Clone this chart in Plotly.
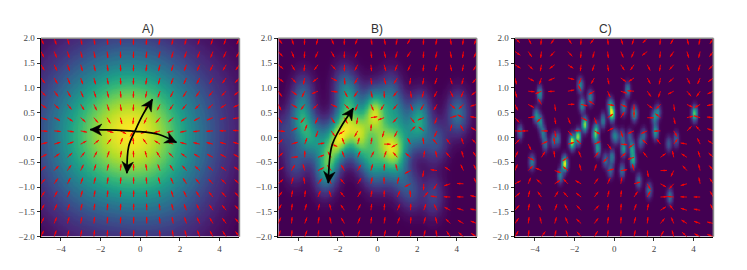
import numpy as np
import plotly.graph_objects as go

# Blob centres and relative weights
blob_x = [-3.77,-4.75,-3.94,-3.74,-3.61,-3.49,-3.10,-2.87,-4.16,-2.73,-2.51,-2.14,-1.84,-1.72,-1.64,-1.22,-1.50,-0.92,-0.97,-0.85,-0.58,-0.46,-0.13,-0.21,-0.21,-0.13,-0.04,0.09,0.46,0.38,0.46,0.38,0.66,0.76,0.88,0.93,1.00,1.30,1.47,1.22,1.74,2.01,2.19,2.06,2.73,3.10,2.78,4.03]
blob_y = [0.89,0.12,0.45,0.32,0.10,-0.12,-0.05,-0.02,-0.49,-0.76,-0.52,-0.08,0.02,1.06,0.66,0.81,0.27,0.18,0.05,-0.21,0.35,-0.45,-0.39,-0.66,0.66,0.49,0.05,0.02,0.61,0.03,-0.22,-0.66,0.97,0.02,-0.22,-0.45,0.49,-0.08,0.05,-0.87,-1.06,0.42,0.52,0.12,-0.12,-0.03,-1.18,0.49]
blob_w = [0.5,0.35,0.5,0.45,0.4,0.35,0.3,0.35,0.45,0.45,1.0,0.95,0.85,0.5,0.5,0.45,0.85,0.45,0.6,0.55,0.4,0.35,0.4,0.35,0.55,0.9,0.3,0.3,0.4,0.3,0.55,0.35,0.4,0.3,0.55,0.6,0.6,0.3,0.3,0.35,0.4,0.45,0.4,0.55,0.3,0.3,0.4,0.75]

# Kernel width (x, y) of each panel, in data units
panel_names = ["A)", "B)", "C)"]
panel_hx = [1.5, 0.37, 0.10]
panel_hy = [1.0, 0.29, 0.10]
panel_left = [41, 278.3, 515]

# Black curved arrows: waypoints tip to tip
curves_x = [[[-2.52,-1.9,-0.25,0.95,1.83],[0.62,0.15,-0.24,-0.58,-0.67]],
            [[-1.22,-1.89,-2.31,-2.48]],
            []]
curves_y = [[[0.16,0.155,0.125,0.06,-0.10],[0.77,0.47,0.15,-0.18,-0.72]],
            [[0.59,0.18,-0.18,-0.92]],
            []]

xticks = [-4, -2, 0, 2, 4]
yticks = [-2, -1.5, -1, -0.5, 0, 0.5, 1, 1.5, 2]
W, H = 747, 270
AX = 198.4
TOP = 38.3
sx, sy = AX/10, AX/4

bx, by, bw = np.array(blob_x), np.array(blob_y), np.array(blob_w)


def log_terms(X, Y, hx, hy):
    return np.log(bw) - 0.5*((X[..., None]-bx)/hx)**2 - 0.5*((Y[..., None]-by)/hy)**2


def head_polygon(x0, y0, x1, y1, length=11.5, width=11.5, notch=3.5):
    # arrowhead whose tip sits on the last waypoint and which follows the last chord
    dx, dy = (x1-x0)*sx, (y1-y0)*sy
    n = np.hypot(dx, dy)
    dx, dy = dx/n, dy/n
    px = lambda a, b: x1 + (a*dx - b*dy)/sx
    py = lambda a, b: y1 + (a*dy + b*dx)/sy
    pts = [(0, 0), (-length, width/2), (-length+notch, 0), (-length, -width/2), (0, 0)]
    return [px(*p) for p in pts], [py(*p) for p in pts]


fig = go.Figure()
for i in range(3):
    xa = "x" if i == 0 else f"x{i+1}"
    ya = "y" if i == 0 else f"y{i+1}"
    hx, hy = panel_hx[i], panel_hy[i]
    gx, gy = np.linspace(-5, 5, 240), np.linspace(-2, 2, 240)
    X, Y = np.meshgrid(gx, gy)
    Z = np.exp(log_terms(X, Y, hx, hy)).sum(-1)
    fig.add_trace(go.Heatmap(x=gx, y=gy, z=Z, colorscale="Viridis", showscale=False,
                             zsmooth="best", xaxis=xa, yaxis=ya, hoverinfo="skip"))
    # quiver: normalised score field
    qx, qy = np.meshgrid(np.linspace(-5, 5, 16), np.linspace(-2, 2, 16))
    lt = log_terms(qx, qy, hx, hy)
    lt = lt - lt.max(-1, keepdims=True)
    r = np.exp(lt)
    r = r / r.sum(-1, keepdims=True)
    u = (r*(bx-qx[..., None])/hx**2).sum(-1)
    v = (r*(by-qy[..., None])/hy**2).sum(-1)
    n = np.hypot(u, v) + 1e-12
    L = 6.5
    ex = qx + u/n*L/sx
    ey = qy + v/n*L/sy
    lx, ly = [], []
    for a, b, c, d in zip(qx.ravel(), qy.ravel(), ex.ravel(), ey.ravel()):
        lx += [a, c, None]
        ly += [b, d, None]
    fig.add_trace(go.Scatter(x=lx, y=ly, mode="lines", line=dict(color="#ff0000", width=1.0), opacity=0.9,
                             xaxis=xa, yaxis=ya, hoverinfo="skip", showlegend=False))
    ang = np.degrees(np.arctan2(u/n, v/n)).ravel()
    fig.add_trace(go.Scatter(x=ex.ravel(), y=ey.ravel(), mode="markers", opacity=0.9,
                             marker=dict(symbol="arrow", size=3.5, color="#ff0000", angle=ang, line=dict(width=0)),
                             xaxis=xa, yaxis=ya, hoverinfo="skip", showlegend=False))
    for cx, cy in zip(curves_x[i], curves_y[i]):
        fig.add_trace(go.Scatter(x=cx, y=cy, mode="lines", line=dict(color="black", width=1.7, shape="spline"),
                                 xaxis=xa, yaxis=ya, hoverinfo="skip", showlegend=False))
        for a, b in ((cx[-2:], cy[-2:]), (cx[1::-1], cy[1::-1])):
            hpx, hpy = head_polygon(a[0], b[0], a[1], b[1])
            fig.add_trace(go.Scatter(x=hpx, y=hpy, mode="lines", fill="toself", fillcolor="black",
                                     line=dict(color="black", width=0.5),
                                     xaxis=xa, yaxis=ya, hoverinfo="skip", showlegend=False))
    left = panel_left[i]
    common = dict(showline=True, linecolor="black", linewidth=1, ticks="outside", ticklen=3.5, tickwidth=0.8,
                  tickcolor="#333", showgrid=False, zeroline=False,
                  tickfont=dict(family="Liberation Serif", size=9, color="#444"))
    sfx = "" if i == 0 else str(i+1)
    fig.layout["xaxis"+sfx] = dict(common, domain=[left/W, (left+AX)/W], range=[-5, 5], tickvals=xticks,
                                   ticktext=[str(t).replace("-", "\u2212") for t in xticks], anchor="y"+sfx)
    fig.layout["yaxis"+sfx] = dict(common, domain=[1-(TOP+AX)/H, 1-TOP/H], range=[-2, 2], tickvals=yticks,
                                   ticktext=[f"{t:.1f}".replace("-", "\u2212") for t in yticks], anchor="x"+sfx)
    fig.add_annotation(text=panel_names[i], xref="paper", yref="paper", x=(left+AX/2)/W, y=1-29/H,
                       yanchor="middle", showarrow=False, font=dict(family="Liberation Sans", size=12, color="#333"))
    for p in ((0, 1, 1, 1), (1, 1, 0, 1)):
        fig.add_shape(type="line", xref=xa+" domain", yref=ya+" domain", x0=p[0], x1=p[1], y0=p[2], y1=p[3],
                      line=dict(color="#888", width=1.6), layer="above")

fig.update_layout(width=W, height=H, margin=dict(l=0, r=0, t=0, b=0, pad=0, autoexpand=False),
                  paper_bgcolor="white", plot_bgcolor="white", showlegend=False)
fig.write_html("out.html", post_script="document.body.style.margin='0';", config={"displayModeBar": False})
